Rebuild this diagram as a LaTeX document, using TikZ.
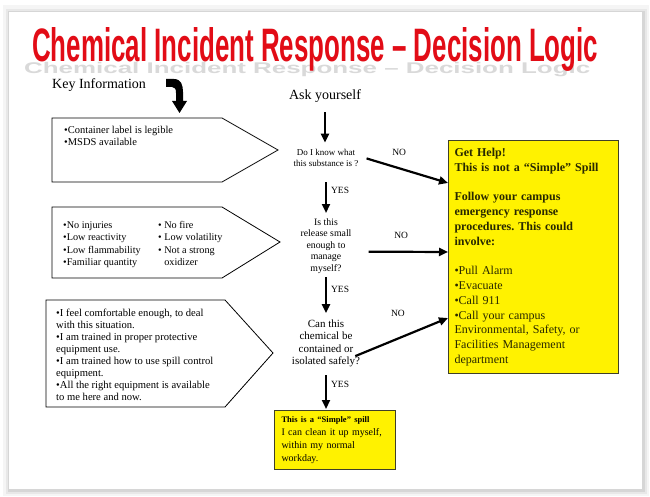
\documentclass[tikz,border=0pt]{standalone}
\usepackage{fontspec}
\setmainfont{Liberation Serif}
\newfontfamily\titlefont{Liberation Sans}
\usetikzlibrary{arrows.meta,positioning}

\definecolor{titlered}{RGB}{226,12,22}
\definecolor{boxline}{RGB}{64,64,40}
\definecolor{helptext}{RGB}{40,40,0}
\frenchspacing

\begin{document}
\begin{tikzpicture}[x=1pt, y=-1pt,
  >={Triangle[length=9pt,width=8pt]},
  arrow/.style={->, line width=2.2pt},
  keybox/.style={draw, line width=0.8pt, fill=white},
  keytext/.style={anchor=base west, align=left, inner sep=0pt},
  question/.style={anchor=base, align=center, inner sep=0pt},
  answer/.style={font=\fontsize{9.5}{11}\selectfont, inner sep=0pt},
  yellowbox/.style={draw=boxline, line width=1pt, fill=yellow, align=left, anchor=north west, text=helptext}
]
  \useasboundingbox (0,0) rectangle (650,497);
  % slide and its shadow
  \fill[gray!8] (3,5) rectangle (649,496);
  \fill[gray!18] (6,9) rectangle (647,494);
  \fill[gray!32] (8,11) rectangle (645,492);
  \fill[white] (9,12) rectangle (642,489);

  % title (multi-line nodes below are placed by their last baseline)
  \node[anchor=base west, inner sep=0pt, text=gray!30] (titleshadow) at (24,74)
    {\scalebox{1}[0.33]{\resizebox{566pt}{34pt}{\titlefont\bfseries Chemical Incident Response – Decision Logic}}};
  \node[anchor=base west, inner sep=0pt, text=titlered] (title) at (32,62)
    {\resizebox{566pt}{34pt}{\titlefont\bfseries Chemical Incident Response – Decision Logic}};

  \node[keytext, font=\fontsize{14}{16}\selectfont] (keyinfo) at (52,89) {Key Information};
  \node[question, font=\fontsize{14}{16}\selectfont] (ask) at (325,100) {Ask yourself};

  % bent arrow under Key Information
  \fill (166,79) -- (174,79) .. controls (181,79) and (183,85) .. (183,92) -- (183,101)
    -- (187,101) -- (179.5,113) -- (172,101) -- (176,101) -- (176,93)
    .. controls (176,89) and (175,87) .. (172,87) -- (166,87) -- cycle;

  % key information boxes
  \draw[keybox] (52,118) -- (222,118) -- (278,150) -- (222,182) -- (52,182) -- cycle;
  \node[keytext, font=\fontsize{10.5}{12}\selectfont] (info1) at (64,146)
    {\textbullet Container label is legible\\\textbullet MSDS available};

  \draw[keybox] (52,207) -- (222,207) -- (280,242) -- (222,278) -- (52,278) -- cycle;
  \node[keytext, font=\fontsize{10.2}{12.5}\selectfont] (info2a) at (63,265.5)
    {\textbullet No injuries\\\textbullet Low reactivity\\\textbullet Low flammability\\\textbullet Familiar quantity};
  \node[keytext, font=\fontsize{10.2}{12.5}\selectfont] (info2b) at (158,265.5)
    {\textbullet{} No fire\\\textbullet{} Low volatility\\\textbullet{} Not a strong\\\hphantom{\textbullet{}} oxidizer};

  \draw[keybox] (46,300) -- (225,300) -- (273,353) -- (225,407) -- (46,407) -- cycle;
  \node[keytext, font=\fontsize{10.6}{12}\selectfont] (info3) at (56,400)
    {\textbullet I feel comfortable enough, to deal\\with this situation.\\
     \textbullet I am trained in proper protective\\equipment use.\\
     \textbullet I am trained how to use spill control\\equipment.\\
     \textbullet All the right equipment is available\\to me here and now.};

  % questions
  \node[question, font=\fontsize{9}{11}\selectfont] (q1) at (326,167)
    {Do I know what\\this substance is ?};
  \node[question, font=\fontsize{9.8}{11.5}\selectfont] (q2) at (326,271)
    {Is this\\release small\\enough to\\manage\\myself?};
  \node[question, font=\fontsize{11}{12.5}\selectfont] (q3) at (326,364.5)
    {Can this\\chemical be\\contained or\\isolated safely?};

  % outcome boxes
  \node[yellowbox, text width=158pt, inner xsep=6pt, inner ysep=7pt, minimum height=233pt,
    font=\fontsize{12}{14.8}\selectfont] (help) at (448,140)
    {\bfseries Get Help!\\This is not a “Simple” Spill\\[14.8pt]
     Follow your campus\\emergency response\\procedures. This could\\involve:\\[14.8pt]
     \mdseries\textbullet Pull Alarm\\\textbullet Evacuate\\\textbullet Call 911\\\textbullet Call your campus\\
     Environmental, Safety, or\\Facilities Management\\department};
  \node[yellowbox, text=black, text width=107pt, inner xsep=7pt, inner ysep=6pt, minimum height=58pt,
    font=\fontsize{10}{13}\selectfont] (simple) at (274,410)
    {{\fontsize{8.5}{10}\selectfont\bfseries This is a “Simple” spill}\\
     I can clean it up myself,\\within my normal\\workday.};

  % connectors
  \draw[arrow, shorten <=9pt, shorten >=7pt] (ask.south) -- (ask.south |- q1.north);
  \draw[arrow, shorten <=15pt, shorten >=5pt] (q1.south) -- node[answer, right=4pt, pos=0.45] (yes1) {YES} (q1.south |- q2.north);
  \draw[arrow, shorten <=4pt, shorten >=6pt] (q2.south) -- node[answer, right=4pt, pos=0.35] (yes2) {YES} (q2.south |- q3.north);
  \draw[arrow, shorten <=8pt, shorten >=1pt] (q3.south) -- node[answer, right=4pt, pos=0.4] (yes3) {YES} (q3.south |- simple.north);

  \draw[arrow] ([xshift=8pt]q1.east) -- node[answer, above=12pt, pos=0.4] (no1) {NO} ([yshift=-43pt]help.north west);
  \draw[arrow] ([xshift=17pt,yshift=-6pt]q2.east) -- node[answer, above=12.5pt, pos=0.41] (no2) {NO} ([yshift=-112pt]help.north west);
  \draw[arrow] ([xshift=-5pt,yshift=-13pt]q3.east) -- node[answer, above=21pt, pos=0.46] (no3) {NO} ([yshift=-178pt]help.north west);
\end{tikzpicture}
\end{document}
